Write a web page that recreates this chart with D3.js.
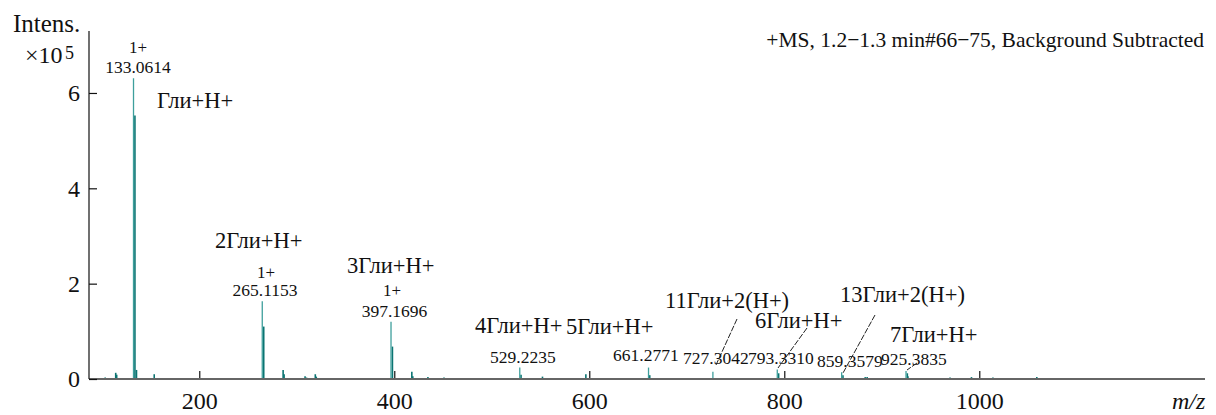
<!DOCTYPE html>
<html><head><meta charset="utf-8">
<script src="https://cdn.jsdelivr.net/npm/d3@7/dist/d3.min.js"></script>
<style>
html,body{margin:0;padding:0;background:#fff;}
svg{display:block;}
text{font-family:"Liberation Serif","Times New Roman",serif;fill:#111;}
</style></head>
<body>
<svg id="c" width="1216" height="415"></svg>
<script>
// ---- data ----
const xTicks = [200, 400, 600, 800, 1000];
const yTicks = [0, 2, 4, 6];
// centroid peaks (m/z, intensity ×1e5)
const peakMz  = [133.0614, 265.1153, 397.1696, 529.2235, 661.2771, 727.3042, 793.3310, 859.3579, 925.3835];
const peakInt = [6.31, 1.63, 1.20, 0.24, 0.24, 0.15, 0.20, 0.14, 0.17];
// profile / minor peaks (m/z, intensity ×1e5)
const profMz  = [134.0, 135.6, 266.1, 398.1, 530.0, 662.0, 794.2, 860.2, 926.2, 926.8,
                 103.5, 114.3, 115.3, 153.8, 176.0, 214.7, 230.5, 246.0, 286.0, 287.0,
                 302.5, 308.5, 310.0, 319.0, 320.0, 418.0, 419.0, 434.5, 451.0, 552.0,
                 596.5, 606.0, 672.0, 679.0, 686.0, 883.0, 885.0, 970.0, 992.0, 1014.0, 1059.0];
const profInt = [5.53, 0.19, 1.10, 0.68, 0.09, 0.08, 0.12, 0.08, 0.12, 0.06,
                 0.03, 0.13, 0.09, 0.10, 0.02, 0.02, 0.02, 0.02, 0.19, 0.10,
                 0.02, 0.06, 0.03, 0.10, 0.05, 0.15, 0.06, 0.04, 0.03, 0.05,
                 0.10, 0.02, 0.02, 0.02, 0.02, 0.04, 0.04, 0.03, 0.04, 0.03, 0.04];
const ionLabels = ["Гли+Н+", "2Гли+Н+", "3Гли+Н+", "4Гли+Н+", "5Гли+Н+", "11Гли+2(Н+)", "6Гли+Н+", "13Гли+2(Н+)", "7Гли+Н+"];
const chargeLabels = ["1+", "1+", "1+"];
const title = "+MS, 1.2\u22121.3 min#66\u221275, Background Subtracted";

// ---- chart ----
const svg = d3.select("#c");
const x = d3.scaleLinear().domain([86.9, 1231.5]).range([89, 1205]);
const y = d3.scaleLinear().domain([0, 7.3]).range([379, 31]);

// profile bars
svg.append("g").selectAll("line").data(profMz).join("line")
  .attr("x1", d => x(d)).attr("x2", d => x(d))
  .attr("y1", y(0)).attr("y2", (d, i) => y(profInt[i]))
  .attr("stroke", "#0b7472").attr("stroke-width", 1.6);
// centroid lines
svg.append("g").selectAll("line").data(peakMz).join("line")
  .attr("x1", d => x(d) - 0.5).attr("x2", d => x(d) - 0.5)
  .attr("y1", y(0)).attr("y2", (d, i) => y(peakInt[i]))
  .attr("stroke", "#3e9f9c").attr("stroke-width", 1.3);

// axes
const xa = svg.append("g").attr("transform", `translate(0,${y(0)})`)
  .call(d3.axisBottom(x).tickValues(xTicks).tickSize(-8).tickPadding(13).tickFormat(d3.format("d")));
xa.select(".domain").remove();
xa.selectAll(".tick line").attr("stroke", "#111").attr("stroke-width", 1.2);
xa.selectAll(".tick text").attr("font-size", 24).attr("fill", "#111")
  .attr("font-family", "Liberation Serif");
svg.append("line").attr("x1", x.range()[0]).attr("x2", x.range()[1])
  .attr("y1", y(0)).attr("y2", y(0)).attr("stroke", "#666").attr("stroke-width", 1.8);

const ya = svg.append("g").attr("transform", `translate(${x.range()[0]},0)`)
  .call(d3.axisLeft(y).tickValues(yTicks).tickSize(-8).tickPadding(9).tickFormat(d3.format("d")));
ya.select(".domain").remove();
ya.selectAll(".tick line").attr("stroke", "#111").attr("stroke-width", 1.2);
ya.selectAll(".tick text").attr("font-size", 24).attr("fill", "#111")
  .attr("font-family", "Liberation Serif");
svg.append("line").attr("x1", x.range()[0]).attr("x2", x.range()[0])
  .attr("y1", y.range()[1]).attr("y2", y(0)).attr("stroke", "#111").attr("stroke-width", 1.2);

// axis titles
svg.append("text").attr("x", 13).attr("y", 32).attr("font-size", 25).text("Intens.");
svg.append("text").attr("x", 25).attr("y", 63).attr("font-size", 24).text("\u00d710");
svg.append("text").attr("x", 65).attr("y", 59).attr("font-size", 18).text("5");
svg.append("text").attr("x", 1172).attr("y", 409).attr("font-size", 24)
  .attr("font-style", "italic").text("m/z");
svg.append("text").attr("x", 1204).attr("y", 47).attr("font-size", 21.5)
  .attr("text-anchor", "end").text(title);

// charge labels + peak m/z labels (layout)
const chargePos = [[138, 53], [266, 278], [392, 296]];
chargeLabels.forEach((t, i) => {
  svg.append("text").attr("x", chargePos[i][0]).attr("y", chargePos[i][1])
    .attr("font-size", 17).attr("text-anchor", "middle").text(t);
});
const mzPos = [[138, 73, "middle"], [265, 296, "middle"], [394.5, 317, "middle"], [490, 363, "start"],
               [613, 361, "start"], [683, 364, "start"], [748, 364, "start"], [817, 367, "start"], [881, 365, "start"]];
peakMz.forEach((m, i) => {
  svg.append("text").attr("x", mzPos[i][0]).attr("y", mzPos[i][1])
    .attr("font-size", 17.5).attr("text-anchor", mzPos[i][2]).text(d3.format(".4f")(m));
});
const ionPos = [[157, 108], [215, 248], [347, 273], [475, 333], [566, 334], [665, 308], [755, 328], [840, 302], [890, 342]];
ionLabels.forEach((t, i) => {
  svg.append("text").attr("x", ionPos[i][0]).attr("y", ionPos[i][1]).attr("font-size", 22.5).text(t);
});
// leader lines
const leaders = [[737, 319, 716, 365], [807, 328, 778, 368], [875, 315, 843, 373], [917, 363, 907, 370]];
svg.append("g").selectAll("line").data(leaders).join("line")
  .attr("x1", d => d[0]).attr("y1", d => d[1]).attr("x2", d => d[2]).attr("y2", d => d[3])
  .attr("stroke", "#222").attr("stroke-width", 1).attr("stroke-dasharray", "6,1.5");
</script>
</body></html>
